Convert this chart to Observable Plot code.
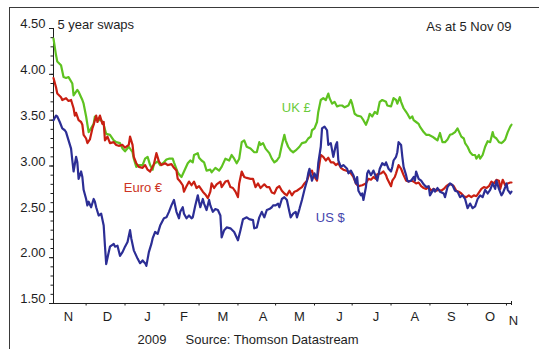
<!DOCTYPE html>
<html>
<head>
<meta charset="utf-8">
<script src="https://cdn.jsdelivr.net/npm/d3@7"></script>
<script src="https://cdn.jsdelivr.net/npm/@observablehq/plot@0.6"></script>
<style>
  html, body { margin: 0; padding: 0; background: #fff; }
  #chart { position: relative; width: 539px; height: 349px; overflow: hidden; }
  #chart svg { position: absolute; left: 0; top: 0; }
  #box { position: absolute; left: 9px; top: 7px; width: 620px; height: 420px;
         border-left: 1px solid #3a3a3a; border-top: 1px solid #3a3a3a; pointer-events: none; }
</style>
</head>
<body>
<div id="chart"><div id="box"></div></div>
<script>
// 5-year swap rates, Nov 2008 - Nov 2009. Days are counted from 5 Nov 2008.
const seriesStart = Date.UTC(2008, 10, 5);
const seriesEnd = Date.UTC(2009, 10, 5);

const ukDay = [0,2,3,6,8,10,12,15,16,19, 20,23,24,26,28,29,32,33,36,38, 40,42,45,48,50,53,55,57,60,63,
  64,66,68,71,73,75,77,79,80,83, 85,88,90,92,95,96,99,100,102,104, 107,109,111,112,115,116,118,120,122,125,
  126,129,132,134,137,140,142,144,146,148, 150,152,154,157,160,162,164,165,167,169, 172,174,176,178,180,182,184,185,187,189,
  191,193,196,198,201,203,205,206,208,210, 211,213,215,217,219,220,222,224,226,228, 230,232,235,237,238,240,242,245,247,249,
  251,252,254,256,258,260,262,265,266,269, 271,273,274,276,277,279,281,282,284,286, 287,289,291,292,295,297,299,302,304,306,
  308,310,312,314,316,318,320,322,324,325, 327,328,330,332,334,336,337,339,340,342, 344,346,348,350,351,353,355,357,358,360,
  362,364,365];
const ukRate = [4.39,4.21,4.14,4.10,3.97,3.96,3.97,3.90,3.77,3.83, 3.81,3.72,3.68,3.54,3.37,3.39,3.46,3.54,3.50,3.50, 3.45,3.35,3.34,3.28,3.26,3.25,3.19,3.16,3.21,3.15,
  3.08,2.99,3.01,3.01,3.08,3.10,3.01,2.96,3.02,3.05, 3.01,3.04,3.07,3.08,3.08,3.04,2.93,2.91,2.88,2.94, 3.03,3.06,3.04,3.12,3.14,3.09,3.06,3.04,2.95,2.96,
  2.93,2.98,2.95,2.99,3.08,3.06,3.12,3.08,3.03,3.08, 3.26,3.28,3.21,3.19,3.15,3.15,3.26,3.23,3.25,3.19, 3.14,3.08,3.04,3.06,3.10,3.23,3.34,3.28,3.21,3.17,
  3.15,3.17,3.21,3.25,3.26,3.30,3.32,3.39,3.41,3.48, 3.59,3.72,3.74,3.72,3.79,3.74,3.68,3.70,3.65,3.66, 3.66,3.64,3.66,3.72,3.68,3.57,3.55,3.54,3.50,3.45,
  3.52,3.57,3.54,3.59,3.57,3.70,3.72,3.70,3.66,3.65, 3.74,3.72,3.68,3.75,3.70,3.63,3.59,3.57,3.52,3.54, 3.50,3.48,3.46,3.43,3.37,3.34,3.34,3.32,3.30,3.28,
  3.36,3.26,3.26,3.29,3.34,3.35,3.37,3.41,3.35,3.32, 3.30,3.25,3.21,3.15,3.12,3.12,3.08,3.12,3.08,3.12, 3.21,3.27,3.26,3.37,3.32,3.30,3.26,3.25,3.26,3.29,
  3.37,3.43,3.45];

const euroDay = [0,2,3,6,7,10,12,14,16,17, 18,20,22,23,24,26,27,29,31,32, 34,35,37,39,40,41,43,45,48,50,
  52,55,57,60,61,63,64,66,68,71, 73,75,77,80,82,84,86,89,91,94, 96,98,99,101,103,104,106,108,110,112,
  114,116,119,121,123,125, 126,128,130,133,134,137,139,141,143,145, 147,148,150,152,154,157,159,161,163,165,
  168,170,172,174,176,178,180,182,184,186, 188,190,192,194,196,198,200,202,204,206, 207,210,211,213,215,217,219,221,223,225,
  227,229,231,233,235,237,239, 241,243,246,249,251,253,255,257,258,261, 263,265,266,269,270,272,273,275,277,279,
  281,283,285,287,289,291,293,295,297,299, 301,303,305,307,309,311,313,315,317,319, 321,323,325,327,329,331,333,335,337,339,
  341,343,345,347,349,351,353,355,356,358, 360,362,364,365];
const euroRate = [3.96,3.86,3.79,3.75,3.72,3.74,3.71,3.72,3.63,3.55, 3.58,3.50,3.48,3.45,3.34,3.30,3.25,3.29,3.41,3.45, 3.55,3.48,3.55,3.46,3.48,3.28,3.32,3.25,3.26,3.23,
  3.22,3.23,3.20,3.23,3.32,3.23,3.10,3.03,2.99,2.98, 3.01,2.96,2.94,3.02,3.14,3.05,3.01,3.03,3.01,3.02, 2.98,2.95,2.86,2.83,2.79,2.72,2.78,2.83,2.79,2.83,
  2.76,2.78,2.72,2.69,2.65,2.72, 2.81,2.76,2.80,2.83,2.77,2.83,2.84,2.77,2.76,2.72, 2.66,2.81,2.94,2.88,2.87,2.86,2.86,2.77,2.81,2.76,
  2.80,2.77,2.77,2.71,2.70,2.76,2.78,2.73,2.70,2.68, 2.73,2.68,2.72,2.73,2.75,2.77,2.81,2.84,2.92,2.95, 2.90,2.84,2.94,3.12,3.10,3.06,3.09,3.04,3.04,3.01,
  3.03,2.98,2.96,2.95,2.94,2.92,2.88, 2.81,2.78,2.79,2.81,2.86,2.85,2.88,2.86,2.91,2.92, 2.94,2.90,2.86,2.78,2.84,2.88,2.92,3.01,2.97,2.90,
  2.84,2.83,2.84,2.83,2.81,2.82,2.78,2.76,2.75,2.77, 2.73,2.75,2.73,2.74,2.73,2.75,2.78,2.80,2.80,2.78, 2.73,2.72,2.70,2.67,2.66,2.68,2.66,2.68,2.67,2.71,
  2.75,2.77,2.76,2.78,2.83,2.81,2.85,2.84,2.75,2.85, 2.79,2.81,2.82,2.82];

const usDay = [0,2,3,5,7,9,10,12,14,15, 16,18,19,20,22,23,24,26,27,28, 30,32,33,34,36,38,40,41,42,44,
  45,48,49,51,53,55,57,59,61,62, 64,66,67,69,71,73,74,76,78,79, 81,83,85,88,90,92,94,96,98,100,
  101,103,104,106,108,110,111,113,115,116, 117,119,120,122,124,125,127,129,131,133, 134,136,138,141,144,146,147,149,151,154,
  156,159,160,162,164,166,168,170,172,174, 175,177,179,180,182,184,186,188,189,191, 193,194,196,198,200,202,203,204,206,208,
  210,211,213,214,216,218,219,221,223,225, 226,227,229,231,234,235,237,239,241,242, 243,245,246,247,249,250,251,253,255,257,
  258,260,262,264,265,267,269,270,271,273, 274,275,277,278,279,281,282,283,285,287, 288,289,291,293,295,297,299,300,303,304,
  306,308,311,312,314,316,318,320,322,324, 326,328,330,332,334,336,338,340,342,344, 346,348,350,352,353,355,357,358,360,361,
  362,364,365];
const usRate = [3.50,3.55,3.54,3.48,3.41,3.39,3.37,3.28,3.19,3.06, 2.94,3.10,3.04,2.86,2.94,2.88,2.74,2.64,2.57,2.61, 2.55,2.64,2.61,2.55,2.46,2.48,2.35,2.13,1.93,2.06,
  2.12,2.15,2.12,2.13,2.02,2.06,2.12,2.17,2.30,2.21, 2.08,2.02,1.99,1.94,1.97,1.94,1.91,2.06,2.15,2.21, 2.28,2.26,2.35,2.43,2.44,2.50,2.57,2.63,2.50,2.43,
  2.50,2.55,2.48,2.43,2.46,2.43,2.44,2.57,2.68,2.61, 2.55,2.64,2.59,2.52,2.63,2.57,2.50,2.53,2.52,2.46, 2.22,2.30,2.33,2.32,2.28,2.22,2.19,2.30,2.42,2.44,
  2.42,2.41,2.32,2.33,2.44,2.50,2.44,2.52,2.53,2.55, 2.57,2.57,2.59,2.55,2.64,2.66,2.63,2.50,2.44,2.48, 2.50,2.44,2.53,2.63,2.74,2.84,2.92,2.97,2.84,2.92,
  2.86,3.03,3.21,3.41,3.43,3.39,3.23,3.25,3.10,3.23, 3.26,3.06,2.99,3.01,2.97,2.92,2.95,2.90,2.81,2.88, 2.73,2.68,2.70,2.63,2.77,2.92,2.95,2.90,2.95,2.88,
  2.84,2.97,3.03,3.01,3.04,2.97,2.94,2.99,3.06,3.10, 3.15,3.26,3.23,3.10,2.99,2.90,2.84,2.83,2.84,2.88, 2.84,2.94,2.86,2.84,2.80,2.77,2.78,2.68,2.75,2.72,
  2.76,2.72,2.70,2.66,2.77,2.81,2.79,2.73,2.72,2.66, 2.68,2.64,2.54,2.59,2.54,2.56,2.64,2.68,2.66,2.74, 2.70,2.74,2.81,2.75,2.84,2.75,2.68,2.70,2.77,2.81,
  2.74,2.70,2.72];

// Axis ticks and labels
const yTicks = [1.5, 2, 2.5, 3, 3.5, 4, 4.5];
const yMinorTicks = d3.range(15, 46).map(v => v / 10);
const monthInitials = ["N", "D", "J", "F", "M", "A", "M", "J", "J", "A", "S", "O"];
// each initial sits under the middle of its trading month
const monthLabelDates = ["2008-11-17", "2008-12-18", "2009-01-19", "2009-02-17", "2009-03-20", "2009-04-21",
  "2009-05-20", "2009-06-21", "2009-07-20", "2009-08-20", "2009-09-18", "2009-10-19"];

// Series names, colours and where their names are written
const seriesNames = ["UK £", "Euro €", "US $"];
const lineColors = ["#5ec220", "#c91f12", "#2c2e95"];
const nameColors = ["#6bcb3a", "#cc3424", "#4545ad"];
const nameDay = [182, 56, 209];
const nameRate = [3.64, 2.76, 2.43];

const onDay = d => new Date(seriesStart + d * 864e5);
const rows = (days, rates) => days.map((d, i) => ({date: onDay(d), rate: rates[i]}));
const series = [rows(ukDay, ukRate), rows(euroDay, euroRate), rows(usDay, usRate)];
const monthStarts = d3.utcMonth.range(new Date(Date.UTC(2008, 11, 1)), new Date(seriesEnd));
const ink = "#1e1e1e";

const note = (str, options) => Plot.text([str], {text: d => d, lineAnchor: "middle", ...options});

const chart = Plot.plot({
  width: 539,
  height: 349,
  marginLeft: 53,
  marginRight: 28,
  marginTop: 28,
  marginBottom: 46,
  style: {background: "transparent", fontFamily: "'Liberation Sans', Arial, sans-serif", fontSize: "13px", color: ink},
  x: {type: "utc", domain: [new Date(seriesStart), new Date(seriesEnd)]},
  y: {domain: [1.5, 4.5]},
  marks: [
    Plot.axisY({ticks: yMinorTicks, tickSize: 2.5, fill: "none", label: null}),
    Plot.axisY({ticks: yTicks, tickSize: 4, fill: "none", label: null}),
    Plot.axisY({ticks: yTicks, tickSize: 4, tickPadding: 4, stroke: "none", dy: -4.5,
                tickFormat: d3.format(".2f"), label: null}),
    Plot.axisX({ticks: monthStarts, tickSize: 2.5, fill: "none", label: null}),
    Plot.axisX({ticks: [new Date(seriesEnd)], tickSize: 4, fill: "none", label: null, dy: -2}),
    Plot.text(monthLabelDates, {x: d => new Date(d), text: (d, i) => monthInitials[i],
                                frameAnchor: "bottom", lineAnchor: "middle", dy: 13}),
    Plot.text(["N"], {x: () => new Date(seriesEnd), text: d => d, frameAnchor: "bottom",
                      lineAnchor: "middle", dy: 17, dx: 2}),
    Plot.ruleX([new Date(seriesStart)], {stroke: ink}),
    Plot.ruleY([1.5], {stroke: ink}),
    ...series.map((data, i) => Plot.line(data, {x: "date", y: "rate", stroke: lineColors[i], strokeWidth: 2.2})),
    ...seriesNames.map((name, i) => Plot.text([name], {
      x: () => onDay(nameDay[i]), y: () => nameRate[i], text: d => d,
      fill: nameColors[i], textAnchor: "start", lineAnchor: "middle"
    })),
    note("5 year swaps", {frameAnchor: "top-left", textAnchor: "start", dx: 4, dy: -4}),
    note("As at 5 Nov 09", {frameAnchor: "top-right", textAnchor: "end", dy: -2}),
    note("2009", {frameAnchor: "bottom-left", textAnchor: "start", dx: 84, dy: 36}),
    note("Source: Thomson Datastream", {frameAnchor: "bottom-left", textAnchor: "start", dx: 132, dy: 36})
  ]
});

document.getElementById("chart").prepend(chart);
</script>
</body>
</html>
